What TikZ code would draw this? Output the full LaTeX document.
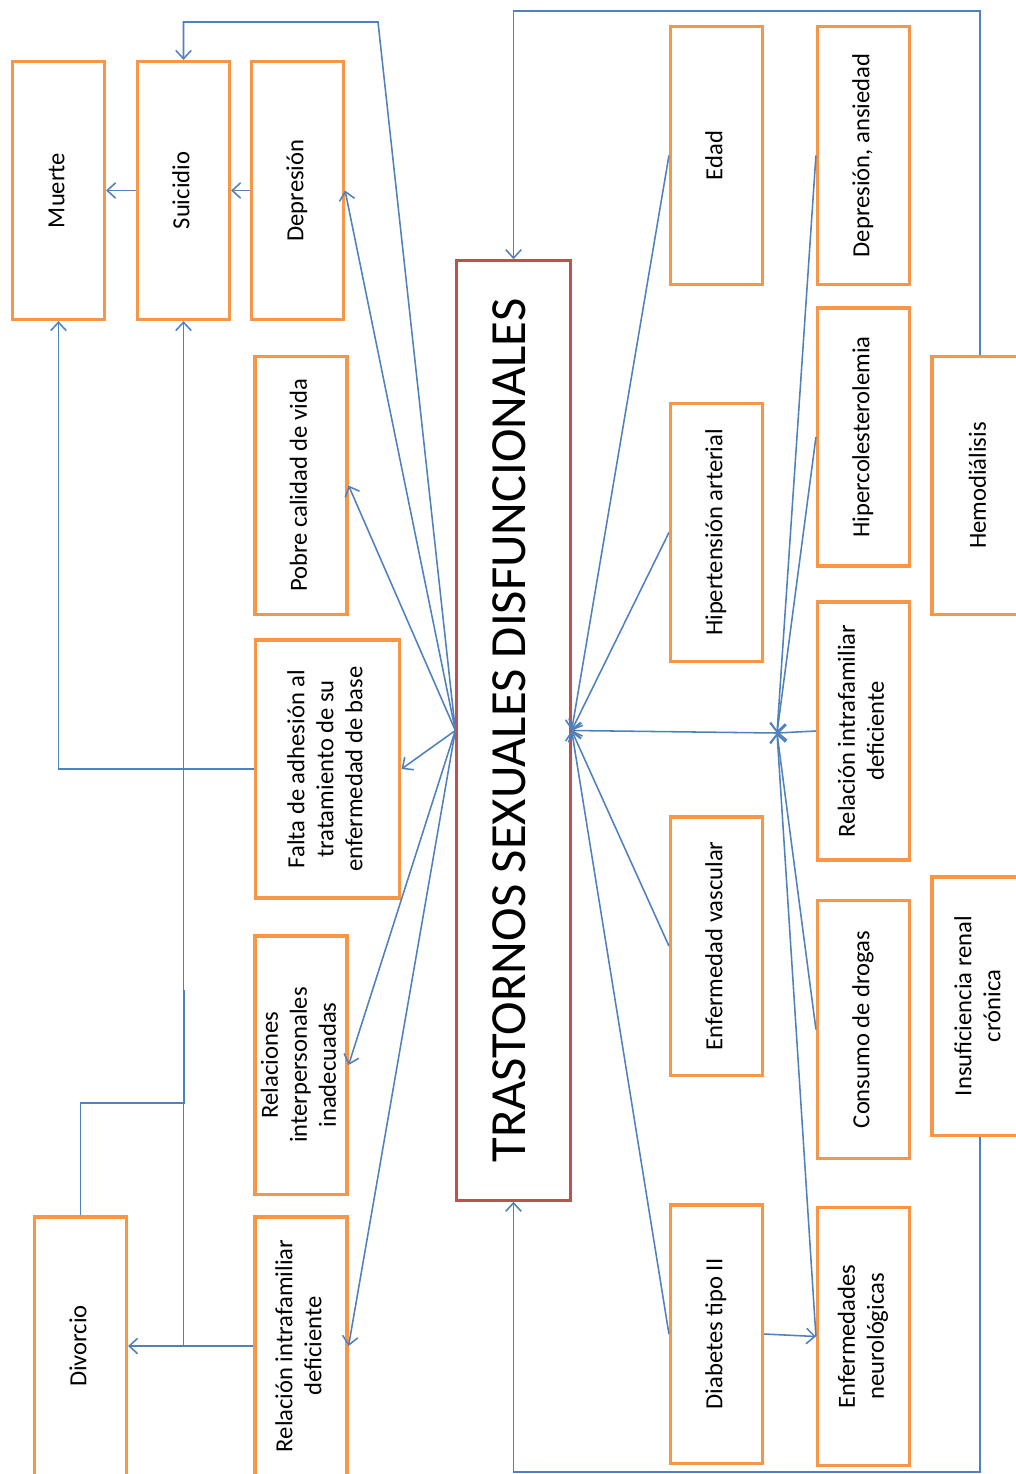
\documentclass[tikz,border=0pt]{standalone}
\usepackage{fontspec}
\setmainfont{Carlito}
\usetikzlibrary{arrows.meta}
\definecolor{boxorange}{HTML}{F79646}
\definecolor{boxred}{HTML}{C0504D}
\definecolor{lineblue}{HTML}{4F81BD}
\newcommand{\rtxt}[1]{\rotatebox{90}{\begin{tabular}{@{}c@{}}#1\end{tabular}}}
\tikzset{
  px/.style={x=0.025cm,y=-0.025cm},
  obox/.style={draw=boxorange,line width=2.2pt,fill=white,inner sep=0pt,
    minimum width=2.3cm,minimum height=6.45cm,font=\fontsize{17.5}{20.6}\selectfont},
  wbox/.style={obox,minimum width=3.62cm},
  rbox/.style={obox,minimum width=2.4cm},
  cbox/.style={draw=boxred,line width=2.2pt,inner sep=0pt,
    minimum width=2.83cm,minimum height=23.48cm,font=\fontsize{36}{42}\selectfont},
  conn/.style={draw=lineblue,line width=1.1pt},
  arr/.style={conn,-{Straight Barb[length=6pt,width=11pt,line width=1.1pt]}}
}
\begin{document}
\begin{tikzpicture}[px]
\useasboundingbox (0,0) rectangle (1016,1474);
\clip (0,0) rectangle (1016,1474);
\fill[white] (0,0) rectangle (1016,1474);
% central
\node[cbox] (c) at (513.5,730.5) {\rtxt{TRASTORNOS SEXUALES DISFUNCIONALES}};
% left column boxes
\node[obox] (mue) at (58.5,190.5) {\rtxt{Muerte}};
\node[obox] (sui) at (183.5,190.5) {\rtxt{Suicidio}};
\node[obox] (dep) at (297.5,190.5) {\rtxt{Depresión}};
\node[obox] (pob) at (301,485.5) {\rtxt{Pobre calidad de vida}};
\node[wbox] (fal) at (327.5,769) {\rtxt{Falta de adhesión al\\tratamiento de su\\enfermedad de base}};
\node[obox] (rel) at (301,1065) {\rtxt{Relaciones\\interpersonales\\inadecuadas}};
\node[obox] (rif) at (301,1346) {\rtxt{Relación intrafamiliar\\deficiente}};
\node[obox] (div) at (80.5,1346) {\rtxt{Divorcio}};
% right column boxes
\node[obox] (eda) at (716.5,155.5) {\rtxt{Edad}};
\node[obox] (hta) at (716.5,532.5) {\rtxt{Hipertensión arterial}};
\node[obox] (vas) at (716.5,946) {\rtxt{Enfermedad vascular}};
\node[obox] (dia) at (716.5,1334) {\rtxt{Diabetes tipo II}};
\node[obox] (dan) at (863.5,155.5) {\rtxt{Depresión, ansiedad}};
\node[obox] (hco) at (863.5,437) {\rtxt{Hipercolesterolemia}};
\node[obox] (rir) at (863.5,731) {\rtxt{Relación intrafamiliar\\deficiente}};
\node[obox] (con) at (863.5,1029.5) {\rtxt{Consumo de drogas}};
\node[obox] (neu) at (863.5,1336.5) {\rtxt{Enfermedades\\neurológicas}};
\node[rbox] (hem) at (980,485.5) {\rtxt{Hemodiálisis}};
\node[rbox] (irc) at (980,1006) {\rtxt{Insuficiencia renal\\crónica}};
% coordinates
\coordinate (tl) at (378,22);
\coordinate (j1) at (184,1103);
\coordinate (j2) at (184,990);
\coordinate (hub) at (777,733);
\coordinate (tr) at (980,11);
\coordinate (br) at (980,1472);
% left side connectors
\draw[arr] (c.west) -- (dep.east);
\draw[arr] (c.west) -- (pob.east);
\draw[arr] (c.west) -- (fal.east);
\draw[arr] (c.west) -- (rel.east);
\draw[arr] (c.west) -- (rif.east);
\draw[arr] (c.west) -- (tl) -| (sui.north);
\draw[arr] (dep.west) -- (sui.east);
\draw[arr] (sui.west) -- (mue.east);
\draw[arr] (fal.west) -| (mue.south);
\draw[arr] (rif.west) -- (div.east);
\draw[arr] (sui.south |- rif.west) -- (sui.south);
\draw[conn] (div.north) |- (j1) -- (j2);
% right side connectors
\draw[arr] (eda.west) -- (c.east);
\draw[arr] (hta.west) -- (c.east);
\draw[arr] (vas.west) -- (c.east);
\draw[arr] (dia.west) -- (c.east);
\draw[arr] (hub) -- (c.east);
\draw[arr] (dan.west) -- (hub);
\draw[arr] (hco.west) -- (hub);
\draw[arr] (rir.west) -- (hub);
\draw[arr] (con.west) -- (hub);
\draw[arr] (neu.west) -- (hub);
\draw[arr] (dia.east) -- (neu.west);
\draw[arr] (hem.north) -- (tr) -| (c.north);
\draw[arr] (irc.south) -- (br) -| (c.south);
\end{tikzpicture}
\end{document}
